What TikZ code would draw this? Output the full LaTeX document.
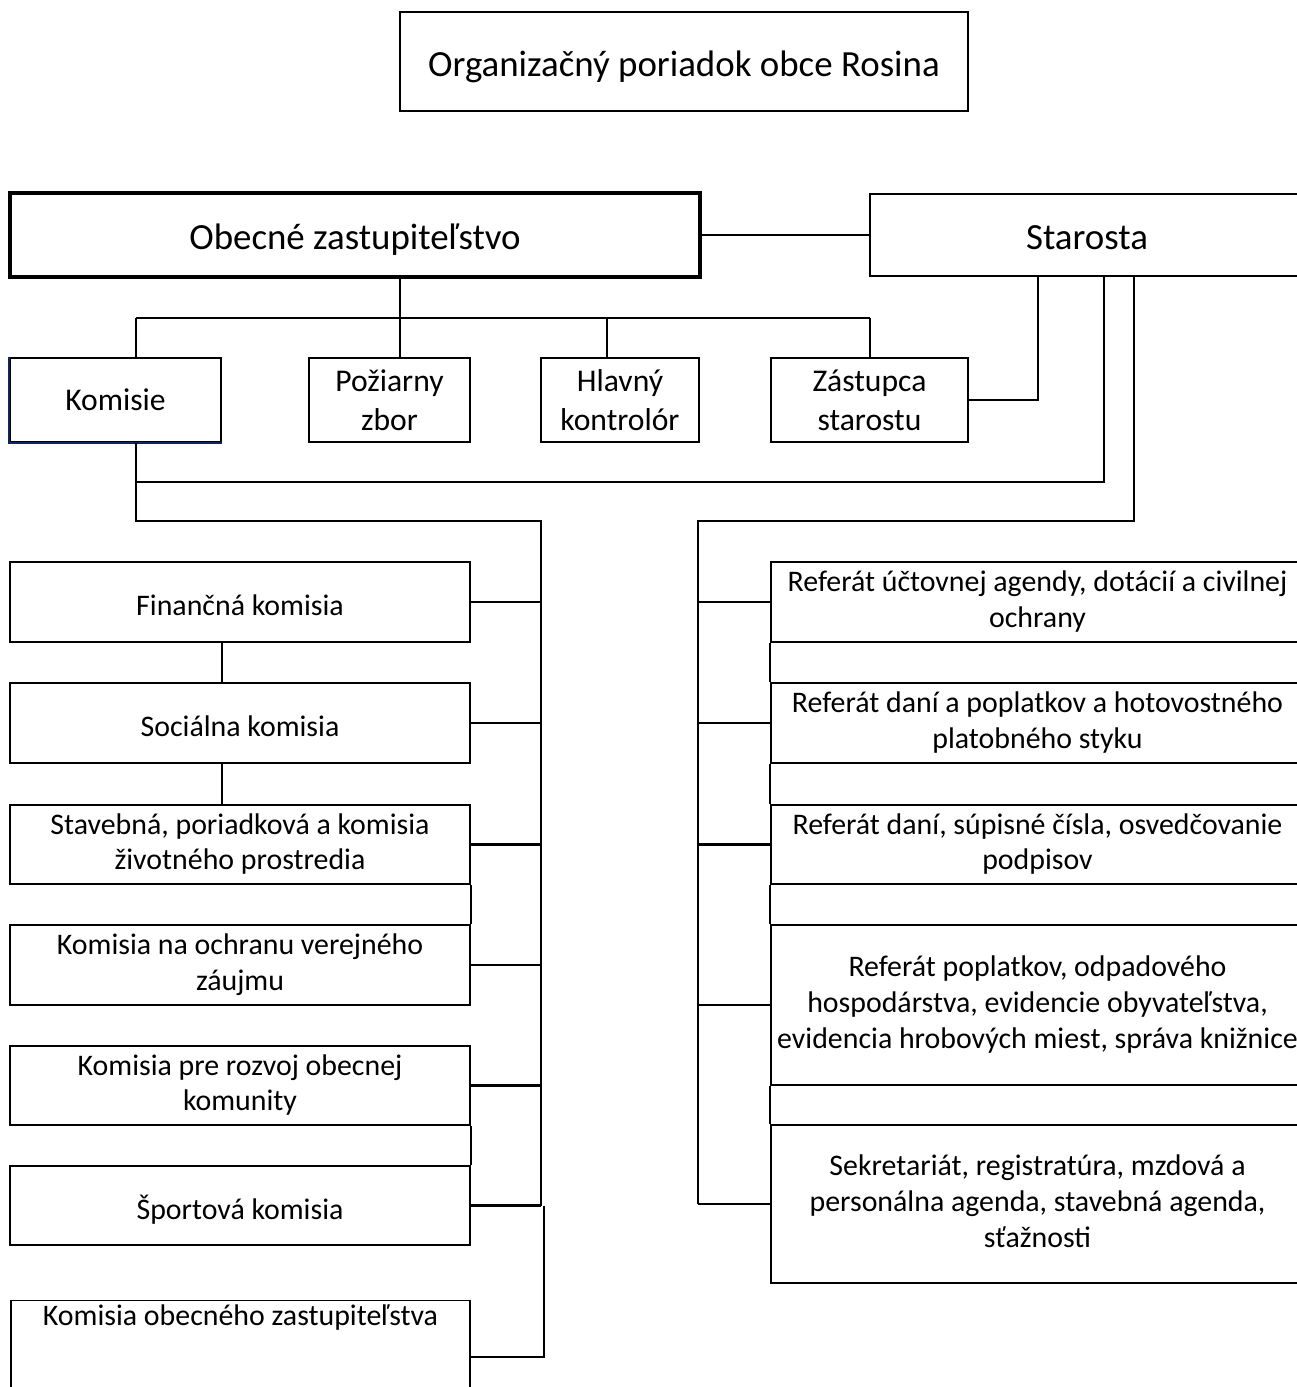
\documentclass[tikz,border=0pt]{standalone}
\usepackage{fontspec}
\setmainfont{Carlito}
\definecolor{komblue}{RGB}{16,36,96}

\begin{document}
\begin{tikzpicture}[x=0.02cm, y=-0.02cm, line width=1.25pt,
        box/.style={draw, rectangle, inner sep=0pt, align=center},
        big/.style={font=\fontsize{21}{25}\selectfont, text height=19pt, text depth=2.4pt},
        mid/.style={font=\fontsize{18}{22}\selectfont},
        small/.style={font=\fontsize{17}{20.4}\selectfont,
                execute at begin node={\rule{0pt}{19pt}},
                execute at end node={\rule[-3.2pt]{0pt}{3.2pt}}}]
        \useasboundingbox (0,0) rectangle (1296,1387);

        \node [box, big, line width=0.85pt, minimum width=11.36cm, minimum height=1.98cm] (title) at (684,61.5) {Organizačný poriadok obce Rosina};
        \node [box, big, line width=1.8pt, minimum width=13.8cm, minimum height=1.68cm] (oz) at (355,235) {Obecné zastupiteľstvo};
        \node [box, big, line width=1.4pt, minimum width=8.68cm, minimum height=1.64cm] (star) at (1087,235) {Starosta};

        \node [box, mid, minimum width=4.22cm, minimum height=1.68cm] (kom) at (115.5,400) {Komisie};
        \node [box, mid, minimum width=3.22cm, minimum height=1.68cm] (poz) at (389.5,400) {Požiarny\\zbor};
        \node [box, mid, minimum width=3.16cm, minimum height=1.68cm] (hk) at (620,400) {Hlavný\\kontrolór};
        \node [box, mid, minimum width=3.94cm, minimum height=1.68cm] (zs) at (869.5,400) {Zástupca\\starostu};
        \draw [komblue, line width=0.8pt] (kom.north west) -- (kom.south west) -- (kom.south east);

        \node [box, small, minimum width=9.2cm, minimum height=1.6cm] (fin) at (240,602) {Finančná komisia};
        \node [box, small, minimum width=9.2cm, minimum height=1.6cm] (soc) at (240,723) {Sociálna komisia};
        \node [box, small, minimum width=9.2cm, minimum height=1.58cm] (stav) at (240,844.5) {Stavebná, poriadková a komisia\\životného prostredia};
        \node [box, small, minimum width=9.2cm, minimum height=1.6cm] (och) at (240,965) {Komisia na ochranu verejného\\záujmu};
        \node [box, small, minimum width=9.2cm, minimum height=1.58cm] (roz) at (240,1085.5) {Komisia pre rozvoj obecnej\\komunity};
        \node [box, small, minimum width=9.2cm, minimum height=1.58cm] (sport) at (240,1205.5) {Športová komisia};
        \node [box, font=\fontsize{17}{20.4}\selectfont, line width=0.7pt, anchor=north, minimum width=9.18cm, text height=14pt, text depth=3cm] (kzs) at (240.5,1300) {Komisia obecného zastupiteľstva};

        \node [box, small, minimum width=10.66cm, minimum height=1.6cm] (r1) at (1037.5,602) {Referát účtovnej agendy, dotácií a civilnej\\ochrany};
        \node [box, small, minimum width=10.66cm, minimum height=1.6cm] (r2) at (1037.5,723) {Referát daní a poplatkov a hotovostného\\platobného styku};
        \node [box, small, minimum width=10.66cm, minimum height=1.58cm] (r3) at (1037.5,844.5) {Referát daní, súpisné čísla, osvedčovanie\\podpisov};
        \node [box, small, minimum width=10.66cm, minimum height=3.2cm] (r4) at (1037.5,1005) {Referát poplatkov, odpadového\\hospodárstva, evidencie obyvateľstva,\\evidencia hrobových miest, správa knižnice};
        \node [box, small, minimum width=10.66cm, minimum height=3.16cm] (r5) at (1037.5,1204) {Sekretariát, registratúra, mzdová a\\personálna agenda, stavebná agenda,\\sťažnosti};

        \coordinate (b1) at (136,318);
        \coordinate (b2) at (400,318);
        \coordinate (b3) at (607,318);
        \coordinate (b4) at (870,318);
        \coordinate (s1) at (1038,400);
        \coordinate (s2) at (1104,482);
        \coordinate (s3) at (1134,521);
        \coordinate (lt) at (541,521);
        \coordinate (lt2) at (544,1357);
        \coordinate (rt) at (698,521);

        \draw (oz.east) -- (star.west);
        \draw (b2 |- oz.south) -- (b2);
        \draw (b1) -- (b4);
        \draw (b1) -- (b1 |- kom.north);
        \draw (b2) -- (b2 |- poz.north);
        \draw (b3) -- (b3 |- hk.north);
        \draw (b4) -- (b4 |- zs.north);
        \draw (s1 |- star.south) -- (s1) -- (zs.east);
        \draw (s2 |- star.south) -- (s2) -- (s2 -| b1);
        \draw (s3 |- star.south) -- (s3) -- (rt) -- (rt |- r5.west);

        \draw (b1 |- kom.south) -- (b1 |- lt) -- (lt) -- (lt |- sport.east);
        \draw [line width=0.8pt] (lt2 |- sport.east) -- (lt2) -- (lt2 -| kzs.east);
        \draw (kom.east |- fin.south) -- (kom.east |- soc.north);
        \draw (kom.east |- soc.south) -- (kom.east |- stav.north);
        \draw (stav.south east) -- (och.north east);
        \draw (roz.south east) -- (sport.north east);
        \foreach \n in {fin,soc,stav,och,roz,sport}
                \draw (\n.east) -- (\n.east -| lt);

        \draw (r1.south west) -- (r2.north west);
        \draw (r2.south west) -- (r3.north west);
        \draw (r3.south west) -- (r4.north west);
        \draw (r4.south west) -- (r5.north west);
        \foreach \n in {r1,r2,r3,r4,r5}
                \draw (\n.west) -- (\n.west -| rt);
\end{tikzpicture}
\end{document}
